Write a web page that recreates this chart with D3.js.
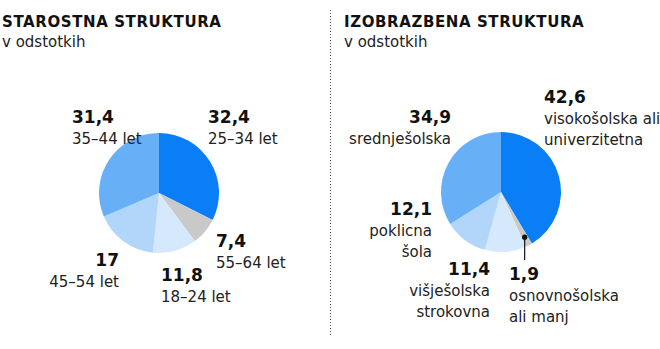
<!DOCTYPE html>
<html>
<head>
<meta charset="utf-8">
<script src="https://cdn.jsdelivr.net/npm/d3@7"></script>
<style>
  html, body { margin: 0; padding: 0; background: #fff; }
  svg { display: block; font-family: "DejaVu Sans", sans-serif; }
</style>
</head>
<body>
<svg id="chart" width="660" height="349"></svg>
<script>
// Age structure (clockwise from 12 o'clock)
const ageCategories = [["25–34 let"], ["55–64 let"], ["18–24 let"], ["45–54 let"], ["35–44 let"]];
const ageValues = [32.4, 7.4, 11.8, 17, 31.4];

// Education structure (clockwise from 12 o'clock)
const eduCategories = [
  ["visokošolska ali", "univerzitetna"],
  ["osnovnošolska", "ali manj"],
  ["višješolska", "strokovna"],
  ["poklicna", "šola"],
  ["srednješolska"]
];
const eduValues = [42.6, 1.9, 11.4, 12.1, 34.9];

const titles = ["STAROSTNA STRUKTURA", "IZOBRAZBENA STRUKTURA"];
const subtitle = "v odstotkih";

// Slice fills, in slice order
const sliceColors = ["#0a7ef7", "#c9c9c9", "#d6e9fc", "#b1d6fa", "#67b0f7"];

const svg = d3.select("#chart");
const fmt = v => String(v).replace(".", ",");

// Label anchors relative to each pie centre: [dx, dy, anchor]
const ageLabelPos = [[49, -70, "start"], [57, 54, "start"], [2, 88, "start"], [-40, 73, "end"], [-87, -70, "start"]];
const eduLabelPos = [[43, -89, "start"], [8, 88, "start"], [-11, 83, "end"], [-69, 23, "end"], [-50, -69, "end"]];

const panels = [
  { x: 2, title: titles[0], cx: 159, cy: 193, values: ageValues, cats: ageCategories, pos: ageLabelPos, leader: -1 },
  { x: 344, title: titles[1], cx: 501, cy: 192, values: eduValues, cats: eduCategories, pos: eduLabelPos, leader: 1 }
];

const radius = 60;
const pie = d3.pie().sort(null).value(d => d);
const arc = d3.arc().innerRadius(0).outerRadius(radius);

// Dotted divider between the panels
svg.append("line")
  .attr("x1", 330.5).attr("x2", 330.5)
  .attr("y1", 10).attr("y2", 337)
  .attr("stroke", "#555").attr("stroke-width", 1)
  .attr("stroke-dasharray", "1,2");

panels.forEach(p => {
  svg.append("text")
    .attr("x", p.x).attr("y", 27)
    .attr("font-size", 15).attr("font-weight", "bold")
    .attr("letter-spacing", 0.6)
    .attr("fill", "#111")
    .text(p.title);
  svg.append("text")
    .attr("x", p.x).attr("y", 47)
    .attr("font-size", 15)
    .attr("fill", "#222")
    .text(subtitle);

  const g = svg.append("g").attr("transform", `translate(${p.cx},${p.cy})`);
  const arcs = pie(p.values);

  g.selectAll("path.slice")
    .data(arcs)
    .join("path")
    .attr("class", "slice")
    .attr("d", arc)
    .attr("fill", (d, i) => sliceColors[i]);

  // Labels: value in bold, category lines beneath
  arcs.forEach((a, i) => {
    const [dx, dy, anchor] = p.pos[i];
    const t = g.append("text")
      .attr("x", dx).attr("y", dy)
      .attr("text-anchor", anchor)
      .attr("fill", "#111");
    t.append("tspan")
      .attr("x", dx)
      .attr("font-size", 17).attr("font-weight", "bold")
      .text(fmt(p.values[i]));
    p.cats[i].forEach((line, k) => {
      t.append("tspan")
        .attr("x", dx).attr("dy", 21)
        .attr("font-size", 15)
        .attr("fill", "#222")
        .text(line);
    });
  });

  // Leader for the thin slice
  if (p.leader >= 0) {
    const a = arcs[p.leader];
    const mid = (a.startAngle + a.endAngle) / 2;
    const r = radius * 0.85;
    const px = Math.sin(mid) * r;
    const py = -Math.cos(mid) * r;
    g.append("line")
      .attr("x1", px).attr("y1", py)
      .attr("x2", px).attr("y2", 68)
      .attr("stroke", "#111").attr("stroke-width", 1.2);
    g.append("circle")
      .attr("cx", px).attr("cy", py).attr("r", 2.6)
      .attr("fill", "#111");
  }
});
</script>
</body>
</html>
